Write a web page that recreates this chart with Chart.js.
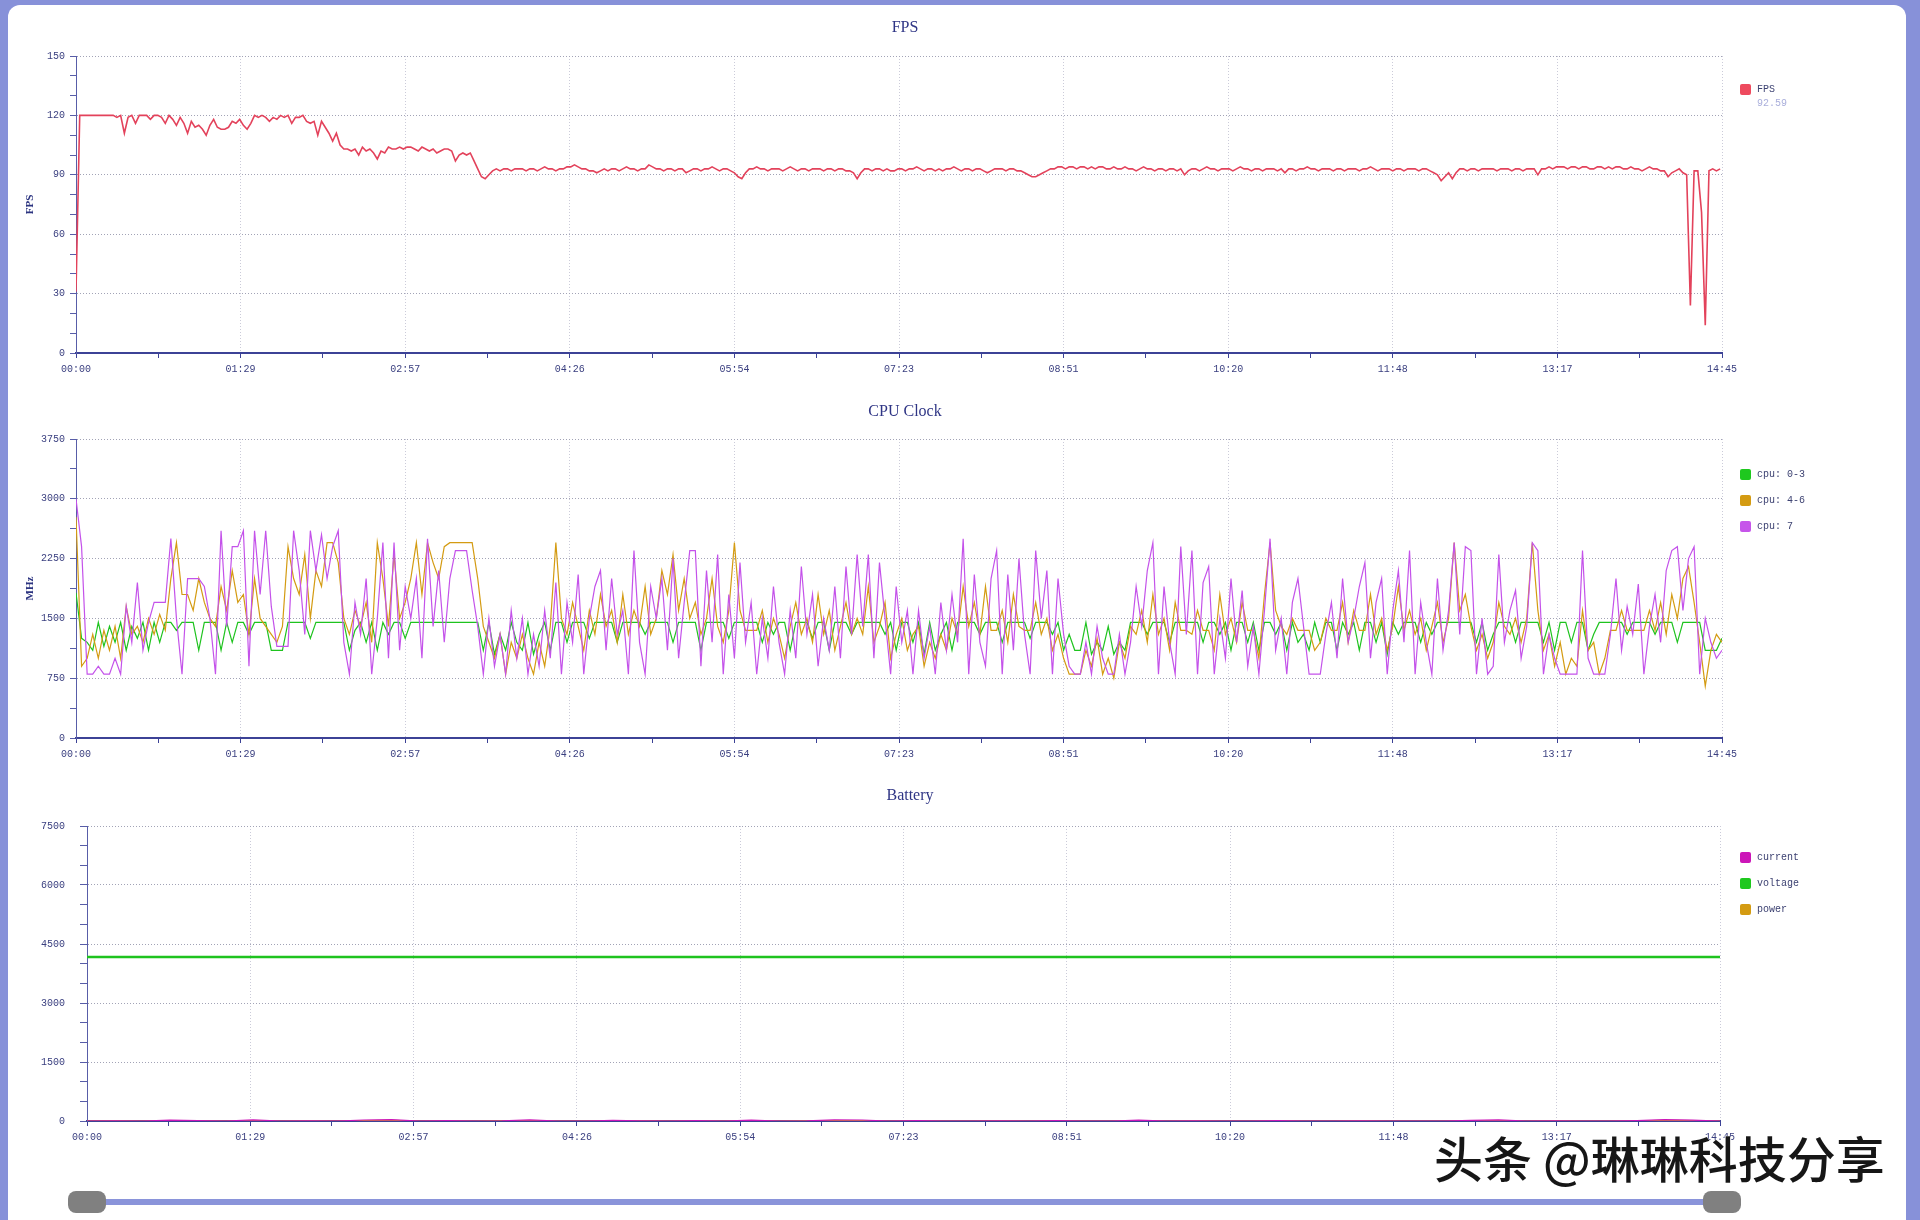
<!DOCTYPE html>
<html><head><meta charset="utf-8">
<script src="https://cdn.jsdelivr.net/npm/chart.js@4.4.1/dist/chart.umd.min.js"></script>
<style>
html,body{margin:0;padding:0;width:1920px;height:1220px;overflow:hidden;background:#8791d9;}
#panel{position:absolute;left:8px;top:5px;width:1898px;height:1240px;background:#fff;border-radius:12px;}
canvas.c{position:absolute;left:0;}
.title{position:absolute;width:400px;margin-left:-200px;text-align:center;font:16px "Liberation Serif",serif;color:#2f3585;line-height:20px;}
#track{position:absolute;left:87px;top:1199px;width:1634px;height:6px;background:#8a94da;}
.handle{position:absolute;top:1191px;width:38px;height:22px;border-radius:8px;background:#808080;}
#wm{position:absolute;left:1434px;top:1130px;font:500 49px "Noto Sans CJK SC",sans-serif;color:#161616;white-space:nowrap;line-height:1.1;text-shadow:1px 1px 0 #fff,-1px 0 0 #fff;}
</style></head>
<body>
<div id="panel"></div>
<canvas class="c" id="cFps" width="1906" height="385" style="top:0px"></canvas>
<canvas class="c" id="cCpu" width="1906" height="385" style="top:385px"></canvas>
<canvas class="c" id="cBat" width="1906" height="385" style="top:770px"></canvas>
<div class="title" style="left:905px;top:17px">FPS</div>
<div class="title" style="left:905px;top:401px">CPU Clock</div>
<div class="title" style="left:910px;top:785px">Battery</div>
<div id="track"></div>
<div class="handle" style="left:68px"></div>
<div class="handle" style="left:1703px"></div>
<div id="wm">头条 @琳琳科技分享</div>
<script>
// ---------------- DATA ----------------
const DURATION = 885;            // seconds (14:45)
const xTickLabels = ['00:00','01:29','02:57','04:26','05:54','07:23','08:51','10:20','11:48','13:17','14:45'];
const fpsYTicks = [0,30,60,90,120,150];
const cpuYTicks = [0,750,1500,2250,3000,3750];
const batYTicks = [0,1500,3000,4500,6000,7500];

const FPS_STEP = 2;   // seconds per FPS sample
const CPU_STEP = 3;   // seconds per CPU sample
const BAT_STEP = 15;  // seconds per battery sample

const fpsLabel = 'FPS';
const fpsAverageText = '92.59';
const fpsValues = [
31,120,120,120,120,120,120,120,120,120,120,119,120,111,119,120,116,120,120,120,
118,120,120,119,116,120,118,115,119,116,111,117,114,115,113,110,115,118,114,113,
113,114,117,116,118,115,113,116,120,119,120,119,117,119,118,120,119,120,116,119,
119,120,117,116,117,110,117,114,111,107,111,105,103,103,102,103,100,104,102,103,
101,98,102,101,104,103,103,104,103,104,104,103,102,104,103,102,103,101,102,103,
103,102,97,100,101,100,101,97,93,89,88,90,92,93,92,93,93,92,93,93,
93,92,93,93,92,93,94,93,93,92,93,93,94,94,95,94,93,93,92,92,
91,92,93,92,93,93,92,93,94,93,93,92,93,93,95,94,93,93,92,93,
93,92,93,93,91,92,93,93,92,93,93,94,93,92,93,93,92,91,89,88,
91,93,93,94,93,93,92,93,93,93,92,93,94,93,92,93,93,92,93,93,
93,92,93,93,92,93,93,92,92,91,88,91,93,93,92,93,93,92,93,92,
92,93,93,92,93,93,94,93,92,93,93,92,93,92,93,93,94,93,92,93,
93,92,93,93,92,91,92,93,93,93,92,93,93,92,92,91,90,89,89,90,
91,92,93,93,94,94,93,94,94,93,94,94,93,94,93,94,94,93,93,94,
93,93,94,93,93,92,93,94,93,93,92,93,93,92,93,93,92,93,90,92,
93,93,92,93,94,93,93,92,93,93,93,92,93,94,93,93,92,93,93,92,
93,93,93,92,93,91,93,93,92,93,93,94,93,93,92,93,93,93,92,93,
93,92,93,93,93,92,93,93,94,93,92,93,93,93,92,93,93,92,93,93,
93,92,93,93,92,91,90,87,89,91,88,91,93,93,92,93,93,92,93,93,
93,93,92,93,93,93,92,93,93,92,93,93,93,90,93,93,94,93,94,94,
94,93,94,94,93,94,94,93,93,94,94,93,94,93,94,94,93,93,94,93,
93,92,93,94,93,93,92,92,89,91,92,93,91,90,24,92,92,71,14,92,
93,92,93
];

const cpuNames = ['cpu: 0-3','cpu: 4-6','cpu: 7'];
const cpu03 = [
1820,1250,1200,1100,1450,1150,1400,1200,1450,1100,1400,1250,1450,1100,1450,1200,1450,1450,1350,1450,
1450,1450,1100,1450,1450,1450,1100,1450,1200,1450,1450,1300,1450,1450,1450,1100,1100,1100,1450,1450,
1450,1450,1250,1450,1450,1450,1450,1450,1450,1100,1350,1450,1200,1450,1100,1450,1300,1450,1450,1250,
1450,1450,1450,1450,1450,1450,1450,1450,1450,1450,1450,1450,1450,1100,1450,1050,1300,1100,1450,1200,
1100,1450,1050,1300,1450,1100,1450,1450,1200,1450,1450,1450,1250,1450,1450,1450,1450,1200,1450,1450,
1450,1450,1300,1450,1450,1450,1450,1200,1450,1450,1450,1450,1100,1450,1450,1450,1450,1250,1450,1450,
1450,1450,1450,1200,1450,1300,1450,1450,1100,1450,1450,1450,1250,1450,1450,1100,1450,1450,1450,1300,
1450,1450,1450,1450,1450,1300,1450,1100,1450,1450,1200,1450,1050,1450,1100,1300,1450,1100,1450,1450,
1450,1450,1300,1450,1450,1450,1200,1450,1450,1450,1450,1250,1450,1450,1450,1300,1450,1100,1300,1100,
1100,1450,1050,1200,1100,1400,1050,1200,1100,1450,1450,1450,1300,1450,1450,1450,1200,1450,1450,1450,
1450,1450,1200,1450,1450,1300,1450,1100,1450,1450,1200,1450,1100,1450,1450,1300,1450,1100,1450,1200,
1300,1100,1450,1200,1450,1450,1100,1450,1300,1450,1100,1450,1450,1200,1450,1050,1450,1300,1450,1450,
1450,1200,1450,1300,1450,1450,1450,1450,1450,1450,1450,1200,1450,1100,1300,1450,1450,1450,1200,1450,
1450,1450,1450,1200,1450,1100,1450,1450,1200,1450,1450,1100,1300,1450,1450,1450,1450,1450,1300,1450,
1450,1450,1450,1300,1450,1450,1450,1200,1450,1450,1450,1450,1100,1100,1100,1250
];
const cpu46 = [
2770,900,1000,1300,1000,1350,1100,1400,1000,1650,1300,1400,1200,1500,1300,1550,1350,2000,2450,1800,
1800,1600,2000,1700,1500,1400,1900,1600,2100,1700,1800,1300,2000,1500,1400,1300,1200,1400,2400,2000,
1800,2300,1500,2100,1900,2450,2450,2200,1500,1300,1600,1400,1700,1200,2450,2000,1400,2300,1500,1700,
2000,2450,1800,2450,2200,2000,2400,2450,2450,2450,2450,2450,2000,1400,1200,1000,1300,800,1200,1000,
1300,1000,800,1200,900,1400,2450,1500,1300,1700,1400,1100,1600,1300,1800,1400,1600,1200,1800,1300,
1600,1400,1900,1300,1500,2100,1800,2300,1600,2000,1500,1700,1300,1500,2000,1400,1200,1600,2450,1600,
1350,1350,1350,1600,1200,1500,1300,1000,1400,1700,1300,1500,1200,1800,1300,1600,1100,1400,1700,1300,
1500,1300,1900,1200,1400,1700,1000,1300,1500,1100,1300,1400,900,1200,1000,1300,1100,1500,1300,1900,
1400,1700,1300,1900,1350,1350,1600,1200,1800,1400,1350,1350,1700,1300,1500,1100,1300,1000,800,800,
800,1100,900,1250,800,1000,750,1200,1000,1400,1300,1600,1200,1800,1300,1500,1100,1700,1350,1350,
1300,1600,1350,1350,1100,1800,1300,1500,1200,1700,1350,1350,1000,1800,2450,1600,1400,1300,1500,1350,
1350,1350,1100,1200,1500,1350,1350,1700,1200,1600,1350,1350,1800,1300,1500,1100,1400,1900,1350,1600,
1300,1500,1100,1400,1700,1200,1500,2450,1600,1800,1400,1100,1300,1000,1200,1700,1400,1300,1500,1200,
1500,2450,1600,1100,1300,900,1200,800,1000,900,1600,1100,1200,800,1000,1350,1350,1600,1350,1350,
1350,1350,1600,1350,1700,1300,1800,1500,2000,2150,1700,1200,650,1100,1300,1200
];
const cpu7 = [
3000,2400,800,800,900,800,800,1000,800,1650,1200,1950,1100,1450,1700,1700,1700,2500,1500,800,
2000,2000,2000,1900,1500,800,2600,1400,2400,2400,2600,900,2600,1800,2600,1650,1150,1150,1150,2600,
2100,1300,2600,2100,2550,2000,2400,2600,1200,800,1700,1300,2000,800,1500,2450,1000,2450,1100,1900,
1500,2000,1000,2500,1400,2100,1200,2000,2350,2350,2350,1850,1400,800,1500,900,1300,800,1600,1000,
1500,800,1300,900,1600,1000,1950,800,1700,1200,2050,800,1500,1900,2100,1100,2000,1300,1600,800,
2350,1200,800,1900,1500,2000,1100,2250,1000,1700,2350,2350,900,2100,1200,2300,800,1800,1000,2200,
1200,1700,800,1500,1000,1900,1200,800,1600,1000,2150,1300,1800,900,1500,1100,1900,1000,2150,1300,
2300,1400,2300,1000,2200,1500,800,1900,1200,1600,800,1600,1000,1400,800,1700,1100,1800,1200,2500,
800,2050,1200,900,2000,2350,800,2050,1100,2250,1300,800,2350,1500,2100,800,2000,1300,900,800,
800,1200,800,1400,1000,800,800,1300,800,1200,1900,1400,2100,2450,800,1900,1200,800,2400,1300,
2350,800,1950,2150,800,1500,1000,2000,1200,1850,900,1400,800,1600,2500,1100,1500,800,1700,2000,
1400,800,800,800,1300,1700,1000,2000,1200,1500,1900,2200,1000,1700,2000,800,1600,2100,1200,2350,
800,1700,1200,800,2000,1100,1600,2450,1300,2400,2350,800,1500,800,900,2300,1200,1600,1850,1000,
1400,2450,2350,800,1300,1000,800,800,800,800,2350,1000,800,800,800,1300,2000,1100,1650,1300,
1930,800,1400,1800,1200,2100,2350,2400,1600,2250,2400,800,1500,1200,1000,1100
];

const batNames = ['current','voltage','power'];
const batCurrent = [0,5,0,20,10,0,30,0,5,0,25,35,0,10,0,5,30,0,0,15,5,0,10,0,20,0,5,30,25,0,10,0,0,5,0,10,0,0,20,0,5,0,0,10,0,0,5,0,0,0,15,30,0,5,0,0,10,35,20,0];
const batVoltage = [4170,4170,4170,4170,4170,4170,4170,4170,4170,4170,4170,4170,4170,4170,4170,4170,4170,4170,4170,4170,4170,4170,4170,4170,4170,4170,4170,4170,4170,4170,4170,4170,4170,4170,4170,4170,4170,4170,4170,4170,4170,4170,4170,4170,4170,4170,4170,4170,4170,4170,4170,4170,4170,4170,4170,4170,4170,4170,4170,4170];
const batPower = [0,2,0,8,4,0,12,0,2,0,10,14,0,4,0,2,12,0,0,6,2,0,4,0,8,0,2,12,10,0,4,0,0,2,0,4,0,0,8,0,2,0,0,4,0,0,2,0,0,0,6,12,0,2,0,0,4,14,8,0];

// ---------------- STYLE ----------------
const AXIS_X='#3c4296', AXIS_Y='#585da8', GRID_H='#a2a3b6', GRID_V='#cbcbd9', TICK_TXT='#3b4080';
const C_FPS='#e3425b', C_GREEN='#1ec31e', C_ORANGE='#d49b12', C_PURPLE='#c452ea', C_MAGENTA='#cc16b8';
Chart.defaults.font.family='"Liberation Mono", monospace';
Chart.defaults.font.size=10;
Chart.defaults.animation=false;

const toPts=(arr,step)=>arr.map((v,i)=>({x:i*step,y:v}));

function xAxis(h){
  const st = DURATION/20;
  return {type:'linear', min:0, max:DURATION,
    ticks:{stepSize:st, autoSkip:false, maxRotation:0, minRotation:0, padding:5, color:TICK_TXT,
      callback:(v)=>{const k=Math.round(v/st); return k%2===0 ? xTickLabels[k/2] : '';}},
    grid:{color:c=> (c.index%2===0)?GRID_V:'rgba(0,0,0,0)', tickColor:AXIS_X, tickLength:5, lineWidth:1},
    border:{color:AXIS_X, width:2, dash:[1,2]},
    afterFit:s=>{s.height=h;}};
}
function yAxis(max, step, labels, w, tickLen, pad, title){
  return {type:'linear', min:0, max:max,
    ticks:{stepSize:step, autoSkip:false, padding:pad, color:TICK_TXT, callback:v=>labels.includes(v)?String(v):''},
    grid:{color:c=> (c.tick && labels.includes(c.tick.value))?GRID_H:'rgba(0,0,0,0)', tickColor:AXIS_Y, tickLength:tickLen},
    border:{color:AXIS_Y, width:1, dash:[1,2]},
    title: title ? {display:true, text:title, color:'#2c3480', font:{family:'"Liberation Serif", serif', size:11, weight:'bold'}, padding:{top:4,bottom:4}} : {display:false},
    afterFit:s=>{s.width=w;}};
}

const sideLegend = {
  id:'sideLegend',
  afterDraw(chart, args, opts){
    const ctx = chart.ctx;
    ctx.save();
    ctx.font = '10px "Liberation Mono", monospace';
    ctx.textBaseline = 'middle';
    opts.items.forEach((it,k)=>{
      const y = opts.top + k*26;
      ctx.fillStyle = it.color;
      ctx.beginPath(); ctx.roundRect(opts.x, y, 11, 11, 2); ctx.fill();
      ctx.fillStyle = '#3d4272';
      ctx.fillText(it.label, opts.x+17, y+5.5);
      if (it.sub){ ctx.fillStyle = '#a9aedb'; ctx.fillText(it.sub, opts.x+17, y+19.5); }
    });
    ctx.restore();
  }
};

function baseOptions(pad, legend, scales){
  return {responsive:false, maintainAspectRatio:false, animation:false, events:[],
    layout:{padding:pad},
    plugins:{legend:{display:false}, tooltip:{enabled:false}, sideLegend:legend},
    elements:{point:{radius:0}, line:{tension:0}},
    scales};
}

new Chart(document.getElementById('cFps'), {
  type:'line',
  data:{datasets:[{label:fpsLabel, data:toPts(fpsValues,FPS_STEP), borderColor:C_FPS, borderWidth:1.6, pointRadius:0}]},
  options: baseOptions({left:20, top:56, right:184, bottom:0},
    {x:1740, top:84, items:[{label:fpsLabel, sub:fpsAverageText, color:'#ee4a5e'}]},
    {x:xAxis(32), y:yAxis(150,10,fpsYTicks,56,6,5,'FPS')}),
  plugins:[sideLegend]
});

new Chart(document.getElementById('cCpu'), {
  type:'line',
  data:{datasets:[
    {label:cpuNames[0], data:toPts(cpu03,CPU_STEP), borderColor:C_GREEN, borderWidth:1.2, pointRadius:0, order:2},
    {label:cpuNames[1], data:toPts(cpu46,CPU_STEP), borderColor:C_ORANGE, borderWidth:1.2, pointRadius:0, order:1},
    {label:cpuNames[2], data:toPts(cpu7,CPU_STEP), borderColor:C_PURPLE, borderWidth:1.2, pointRadius:0, order:0}
  ]},
  options: baseOptions({left:20, top:54, right:184, bottom:0},
    {x:1740, top:84, items:[{label:cpuNames[0],color:'#1ec81e'},{label:cpuNames[1],color:C_ORANGE},{label:cpuNames[2],color:'#c655ea'}]},
    {x:xAxis(32), y:yAxis(3750,375,cpuYTicks,56,6,5,'MHz')}),
  plugins:[sideLegend]
});

new Chart(document.getElementById('cBat'), {
  type:'line',
  data:{datasets:[
    {label:batNames[0], data:toPts(batCurrent,BAT_STEP), borderColor:C_MAGENTA, borderWidth:1.2, pointRadius:0},
    {label:batNames[1], data:toPts(batVoltage,BAT_STEP), borderColor:C_GREEN, borderWidth:2.5, pointRadius:0},
    {label:batNames[2], data:toPts(batPower,BAT_STEP), borderColor:C_ORANGE, borderWidth:1.2, pointRadius:0}
  ]},
  options: baseOptions({left:20, top:56, right:186, bottom:0},
    {x:1740, top:82, items:[{label:batNames[0],color:C_MAGENTA},{label:batNames[1],color:'#1ec81e'},{label:batNames[2],color:C_ORANGE}]},
    {x:xAxis(34), y:yAxis(7500,500,batYTicks,67,7,15,null)}),
  plugins:[sideLegend]
});
</script>
</body></html>
